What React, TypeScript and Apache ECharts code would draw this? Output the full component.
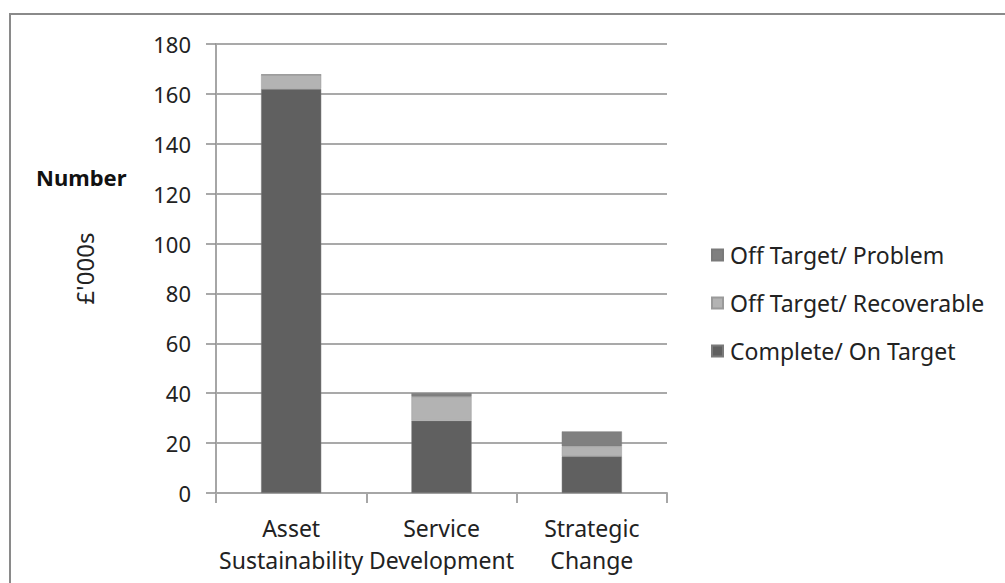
import React, { useEffect, useRef } from "react";
import * as echarts from "echarts";

const categories = ["Asset\nSustainability", "Service\nDevelopment", "Strategic\nChange"];
const completeOnTarget = [162, 29, 14.7];
const offTargetRecoverable = [5.7, 9.6, 4];
const offTargetProblem = [0, 1.4, 6];
const yTicks = { min: 0, max: 180, interval: 20 };

const FONT = "'Noto Sans', 'Open Sans', sans-serif";

export default function App() {
  const ref = useRef<HTMLDivElement>(null);
  useEffect(() => {
    if (!ref.current) return;
    const chart = echarts.init(ref.current, null, { renderer: "svg" });
    chart.setOption({
      animation: false,
      backgroundColor: "#ffffff",
      textStyle: { fontFamily: FONT },
      grid: { left: 216, right: 338, top: 44, bottom: 90, containLabel: false },
      legend: {
        orient: "vertical",
        left: 706,
        top: 237,
        itemWidth: 11,
        itemHeight: 11,
        itemGap: 22,
        icon: "rect",
        data: ["Off Target/ Problem", "Off Target/ Recoverable", "Complete/ On Target"],
        textStyle: { fontFamily: FONT, fontSize: 23, color: "#222", lineHeight: 26, padding: [0, 0, 0, 2] },
      },
      xAxis: {
        type: "category",
        data: categories,
        axisLine: { lineStyle: { color: "#a6a6a6", width: 2 } },
        axisTick: { show: true, length: 10, lineStyle: { color: "#a6a6a6", width: 2 } },
        axisLabel: { fontFamily: FONT, fontSize: 23, color: "#222", lineHeight: 32, margin: 19, interval: 0 },
      },
      yAxis: {
        type: "value",
        min: yTicks.min,
        max: yTicks.max,
        interval: yTicks.interval,
        name: "£'000s",
        nameLocation: "middle",
        nameRotate: 90,
        nameGap: 120,
        nameTextStyle: { fontFamily: FONT, fontSize: 24, color: "#222" },
        axisLine: { show: true, lineStyle: { color: "#a6a6a6", width: 2 } },
        axisTick: { show: true, length: 10, lineStyle: { color: "#8c8c8c", width: 1.5 } },
        axisLabel: { fontFamily: FONT, fontSize: 22, color: "#222", margin: 25 },
        splitLine: { show: true, lineStyle: { color: "#8c8c8c", width: 1.5 } },
      },
      graphic: [
        {
          type: "rect",
          shape: { x: 10, y: 14, width: 1100, height: 700 },
          style: { fill: "none", stroke: "#8a8a8a", lineWidth: 2 },
          silent: true,
        },
        {
          type: "text",
          left: 36,
          top: 166,
          style: { text: "Number", font: `bold 22px ${FONT}`, fill: "#111" },
        },
      ],
      series: [
        {
          name: "Complete/ On Target",
          type: "bar",
          stack: "total",
          barWidth: "40%",
          data: completeOnTarget,
          itemStyle: { color: "#606060", borderColor: "#7a7a7a", borderWidth: 0.5 },
        },
        {
          name: "Off Target/ Recoverable",
          type: "bar",
          stack: "total",
          data: offTargetRecoverable,
          itemStyle: { color: "#b3b3b3", borderColor: "#9a9a9a", borderWidth: 0.5 },
        },
        {
          name: "Off Target/ Problem",
          type: "bar",
          stack: "total",
          data: offTargetProblem,
          itemStyle: { color: "#808080", borderColor: "#7a7a7a", borderWidth: 0.5 },
        },
      ],
    });
    return () => chart.dispose();
  }, []);
  return (
    <div
      ref={ref}
      style={{ position: "fixed", left: 0, top: 0, width: 1005, height: 583 }}
    />
  );
}
